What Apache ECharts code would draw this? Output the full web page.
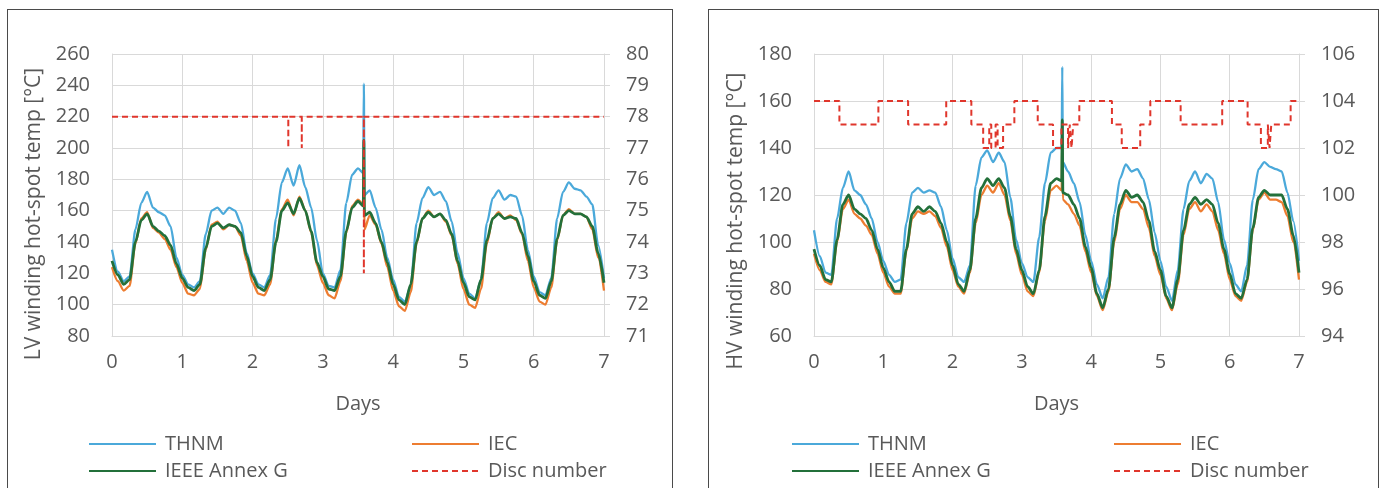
<!DOCTYPE html>
<html>
<head>
<meta charset="utf-8">
<script src="https://cdn.jsdelivr.net/npm/echarts@6/dist/echarts.min.js"></script>
<style>
  body { margin: 0; background: #fff; width: 1380px; height: 488px; overflow: hidden; position: relative; }
  .panel { position: absolute; border: 1px solid #4a4a4a; background: #fff; }
</style>
</head>
<body>
<div id="lv" class="panel" style="left:7px;top:9px;width:664px;height:490px"></div>
<div id="hv" class="panel" style="left:708px;top:9px;width:669px;height:490px"></div>
<script>
// time in hours (2 h steps, extra points round the event at 86 h)
var hours = [
  0, 2, 4, 6, 8, 10, 12, 14, 16, 18, 20, 22,
  24, 26, 28, 30, 32, 34, 36, 38, 40, 42, 44, 46,
  48, 50, 52, 54, 56, 58, 60, 62, 64, 66, 68, 70,
  72, 74, 76, 78, 80, 82, 84, 85.8, 86, 86.2, 88, 90, 92, 94,
  96, 98, 100, 102, 104, 106, 108, 110, 112, 114, 116, 118,
  120, 122, 124, 126, 128, 130, 132, 134, 136, 138, 140, 142,
  144, 146, 148, 150, 152, 154, 156, 158, 160, 162, 164, 166, 168
];

// LV winding hot-spot temp [°C]
var lvThnm = [
  135, 121, 115, 118, 148, 165, 172, 162, 159, 157, 150, 130,
  119, 113, 111, 115, 145, 160, 162, 158, 162, 160, 152, 133,
  120, 113, 111, 119, 155, 178, 187, 176, 189, 175, 162, 141,
  120, 112, 111, 122, 165, 183, 187, 184, 241, 170, 173, 162, 148, 130,
  116, 105, 102, 112, 152, 168, 175, 170, 172, 166, 153, 133,
  117, 107, 104, 116, 152, 168, 173, 167, 170, 169, 157, 135,
  118, 108, 106, 117, 155, 172, 178, 174, 173, 169, 164, 138, 117
];
var lvIec = [
  124, 115, 109, 112, 139, 155, 159, 149, 146, 142, 135, 124,
  114, 107, 106, 110, 135, 151, 153, 148, 151, 150, 144, 128,
  114, 107, 106, 113, 141, 161, 167, 157, 169, 160, 146, 125,
  114, 106, 104, 115, 146, 163, 167, 164, 195, 148, 157, 151, 139, 124,
  109, 99, 96, 108, 139, 155, 160, 156, 158, 153, 144, 126,
  110, 100, 98, 110, 139, 155, 159, 155, 157, 154, 145, 128,
  111, 102, 100, 111, 141, 157, 161, 158, 158, 156, 148, 130, 109
];
var lvIeee = [
  128, 119, 113, 116, 140, 154, 158, 150, 147, 144, 138, 126,
  117, 111, 109, 113, 136, 150, 152, 149, 151, 150, 146, 131,
  118, 111, 109, 116, 140, 160, 165, 158, 168, 160, 147, 127,
  118, 110, 109, 118, 147, 162, 166, 163, 205, 157, 159, 152, 140, 127,
  113, 103, 100, 113, 140, 155, 159, 156, 158, 154, 145, 128,
  114, 105, 103, 116, 141, 155, 158, 155, 156, 155, 146, 131,
  115, 106, 104, 115, 142, 157, 160, 158, 158, 156, 150, 133, 114
];
var lvDiscHours = [0, 60.2, 60.2, 60.2, 64.8, 64.8, 64.8, 86, 86, 86, 168];
var lvDisc = [78, 78, 77, 78, 78, 77, 78, 78, 73, 78, 78];

// HV winding hot-spot temp [°C]
var hvThnm = [
  105, 94, 87, 86, 110, 123, 130, 122, 120, 116, 110, 100,
  92, 86, 83, 84, 108, 121, 123, 121, 122, 121, 115, 105,
  93, 85, 83, 90, 124, 136, 139, 134, 138, 134, 119, 101,
  91, 85, 83, 102, 125, 138, 140, 140, 174.5, 134, 130, 125, 117, 103,
  92, 82, 76, 85, 112, 127, 133, 130, 131, 127, 118, 104,
  92, 81, 75, 88, 114, 126, 130, 125, 129, 127, 117, 101,
  91, 82, 79, 90, 118, 131, 134, 132, 131, 130, 121, 109, 92
];
var hvIec = [
  95, 88, 83, 82, 100, 114, 118, 112, 110, 107, 103, 95,
  87, 81, 78, 78, 96, 110, 113, 112, 113, 111, 106, 98,
  88, 81, 78, 87, 108, 120, 124, 121, 125, 120, 109, 95,
  86, 79, 77, 87, 109, 122, 124, 122, 145, 118, 116, 112, 107, 96,
  87, 77, 71, 79, 100, 114, 120, 117, 117, 114, 106, 94,
  86, 76, 71, 82, 103, 114, 117, 113, 116, 113, 105, 95,
  84, 77, 75, 83, 105, 118, 121, 118, 118, 117, 111, 100, 84
];
var hvIeee = [
  97, 90, 84, 83, 101, 116, 120, 114, 112, 110, 105, 97,
  89, 83, 79, 79, 97, 112, 115, 113, 115, 113, 108, 100,
  90, 82, 79, 88, 110, 123, 127, 124, 127, 123, 111, 97,
  88, 81, 78, 88, 111, 125, 127, 126, 152, 121, 120, 116, 110, 98,
  89, 78, 72, 80, 102, 116, 122, 119, 120, 117, 109, 96,
  88, 77, 72, 84, 105, 116, 119, 116, 118, 116, 108, 97,
  86.5, 78, 76, 84, 106, 119, 122, 120, 120, 120, 114, 103, 87
];
var hvDiscHours = [
  0, 8.8, 8.8, 22.3, 22.3, 32.6, 32.6, 45.8, 45.8, 54.5, 54.5, 58.6, 58.6,
  60.7, 60.7, 61.4, 61.4, 62.9, 62.9, 63.6, 63.6, 65.5, 65.5, 69.4, 69.4,
  77.5, 77.5, 82.8, 82.8, 85.7, 85.7, 88, 88, 88.6, 88.6, 89.2, 89.2, 89.8, 89.8,
  91.9, 91.9, 103.2, 103.2, 106.6, 106.6, 113, 113, 116.5, 116.5, 127, 127,
  141.4, 141.4, 150.2, 150.2, 154.8, 154.8, 157.2, 157.2, 157.8, 157.8,
  158.4, 158.4, 165.1, 165.1, 168
];
var hvDisc = [
  104, 104, 103, 103, 104, 104, 103, 103, 104, 104, 103, 103, 102,
  102, 103, 103, 102, 102, 103, 103, 102, 102, 103, 103, 104,
  104, 103, 103, 102, 102, 103, 103, 102, 102, 103, 103, 102, 102, 103,
  103, 104, 104, 103, 103, 102, 102, 103, 103, 104, 104, 103,
  103, 104, 104, 103, 103, 102, 102, 103, 103, 102,
  102, 103, 103, 104, 104
];

var seriesNames = ['THNM', 'IEC', 'IEEE Annex G', 'Disc number'];
var colors = ['#4ba9da', '#ed7d31', '#23703a', '#e0362c'];
var txt = '#595959';
var gridColor = '#d9d9d9';

function pairs(xs, ys) {
  return xs.map(function (x, i) { return [x, ys[i]]; });
}

function makeOption(p) {
  var lineSeries = [p.thnm, p.iec, p.ieee].map(function (vals, i) {
    return {
      name: seriesNames[i],
      type: 'line',
      data: pairs(hours, vals),
      symbol: 'none',
      smooth: 0.25,
      smoothMonotone: 'x',
      color: colors[i],
      lineStyle: { width: i == 2 ? 2.8 : 2.3 },
      z: 2 + i
    };
  });
  lineSeries.push({
    name: seriesNames[3],
    type: 'line',
    yAxisIndex: 1,
    data: pairs(p.discHours, p.disc),
    symbol: 'none',
    color: colors[3],
    lineStyle: { width: 2, type: [6, 4] },
    z: 6
  });
  var legendBase = {
    orient: 'vertical',
    top: 419,
    itemWidth: 67,
    itemHeight: 14,
    itemGap: 7,
    itemStyle: { opacity: 0 },
    textStyle: { color: txt, fontSize: 20, fontFamily: 'Open Sans', padding: [0, 0, 0, 4] }
  };
  return {
    animation: false,
    textStyle: { fontFamily: 'Open Sans' },
    grid: { left: p.gridLeft, top: 44, width: p.gridWidth, height: 282 },
    legend: [
      Object.assign({ left: p.legendA, data: ['THNM', 'IEEE Annex G'] }, legendBase),
      Object.assign({ left: p.legendB, data: ['IEC', 'Disc number'] }, legendBase)
    ],
    xAxis: {
      type: 'value',
      min: 0, max: 168, interval: 24,
      name: 'Days',
      nameLocation: 'middle',
      nameGap: 58,
      nameTextStyle: { color: txt, fontSize: 20 },
      axisLine: { lineStyle: { color: gridColor } },
      axisTick: { show: false },
      axisLabel: { color: txt, fontSize: 20, margin: 16, formatter: function (v) { return v / 24; } },
      splitLine: { lineStyle: { color: gridColor } }
    },
    yAxis: [{
      type: 'value',
      min: p.yMin, max: p.yMax, interval: 20,
      name: p.yName,
      nameLocation: 'middle',
      nameGap: p.nameGap,
      nameTextStyle: { color: txt, fontSize: 21, padding: [0, p.namePad, 0, 0] },
      axisLine: { show: true, lineStyle: { color: gridColor } },
      axisTick: { show: false },
      axisLabel: { color: txt, fontSize: 20, margin: 22 },
      splitLine: { lineStyle: { color: gridColor } }
    }, {
      type: 'value',
      min: p.y2Min, max: p.y2Max, interval: p.y2Step,
      position: 'right',
      axisLine: { show: true, lineStyle: { color: gridColor } },
      axisTick: { show: true, length: 6, lineStyle: { color: gridColor } },
      axisLabel: { color: txt, fontSize: 20, margin: 22 },
      splitLine: { show: false }
    }],
    series: lineSeries
  };
}

var lvChart = echarts.init(document.getElementById('lv'));
lvChart.setOption(makeOption({
  thnm: lvThnm, iec: lvIec, ieee: lvIeee, discHours: lvDiscHours, disc: lvDisc,
  gridLeft: 104, gridWidth: 492, legendA: 75, legendB: 398,
  yMin: 80, yMax: 260, y2Min: 71, y2Max: 80, y2Step: 1,
  yName: 'LV winding hot-spot temp [°C]', nameGap: 62, namePad: 38
}));

var hvChart = echarts.init(document.getElementById('hv'));
hvChart.setOption(makeOption({
  thnm: hvThnm, iec: hvIec, ieee: hvIeee, discHours: hvDiscHours, disc: hvDisc,
  gridLeft: 105, gridWidth: 485, legendA: 77, legendB: 399,
  yMin: 60, yMax: 180, y2Min: 94, y2Max: 106, y2Step: 2,
  yName: 'HV winding hot-spot temp [°C]', nameGap: 65, namePad: 52
}));
</script>
</body>
</html>
